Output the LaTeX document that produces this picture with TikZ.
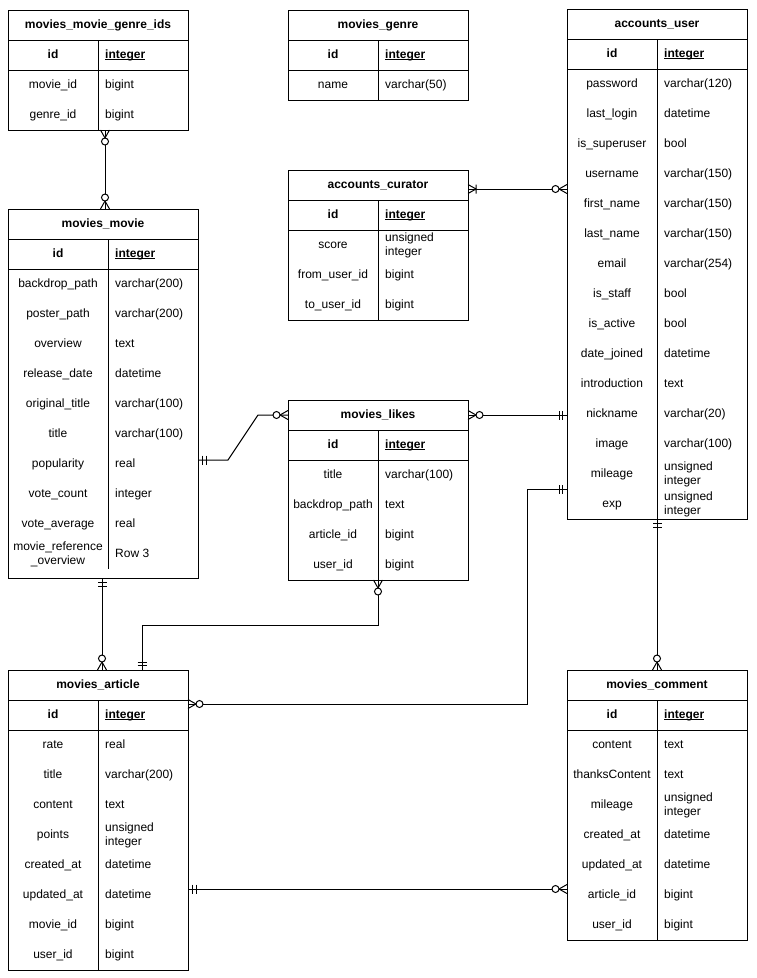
\documentclass[tikz,border=0pt]{standalone}
\usepackage{fontspec}
\setmainfont{Liberation Sans}
\usetikzlibrary{calc}
\tikzset{
  tbl/.style={draw, line width=1pt, inner sep=0pt, outer sep=0pt, fill=white},
  tline/.style={line width=1pt},
  ttl/.style={font=\fontsize{12}{14}\selectfont\bfseries, inner sep=0pt},
  fname/.style={font=\fontsize{12}{14}\selectfont, inner sep=0pt, align=center},
  ftype/.style={font=\fontsize{12}{14}\selectfont, inner sep=0pt, align=left, anchor=west},
  conn/.style={line width=1pt},
  endcircle/.style={line width=1pt, fill=white},
}
\newcommand{\myul}[1]{\setbox0=\hbox{#1}\rlap{\rule[-2pt]{\wd0}{0.9pt}}\box0}
\newcommand{\rs}{\vphantom{Agy\_()}}
% #1 name, #2 x, #3 y, #4 width, #5 name column, #6 title, #7 rows, #8 bottom pad, #9 rows list
\newcommand{\ertable}[9]{%
  \pgfmathsetmacro\tblh{60+30*#7+#8}%
  \pgfmathsetmacro\sepb{#3+60+30*#7}%
  \node[tbl, minimum width=#4pt, minimum height=\tblh pt, anchor=north west] (#1) at (#2,#3) {};
  \node[ttl] (#1-t) at ({#2+#4/2},{#3+15}) {\rs#6};
  \draw[tline] ({#2},{#3+30}) -- ++(#4,0);
  \draw[tline] ({#2},{#3+60}) -- ++(#4,0);
  \draw[tline] ({#2+#5},{#3+30}) -- ({#2+#5},\sepb);
  \node[ttl] (#1-id) at ({#2+#5/2},{#3+45}) {\rs id};
  \node[ftype, font=\fontsize{12}{14}\selectfont\bfseries] (#1-idt) at ({#2+#5+7},{#3+45}) {\rs\myul{integer}};
  \foreach[count=\i] \a/\b in {#9} {
    \node[fname] (#1-n\i) at ({#2+#5/2},{#3+45+30*\i}) {\rs\a};
    \node[ftype] (#1-f\i) at ({#2+#5+7},{#3+45+30*\i}) {\rs\b};
  }
}
\newcommand{\ermandone}[2]{\begin{scope}[shift={(#1)},rotate=#2]\draw[conn] (4.5,-4.5)--(4.5,4.5) (8,-4.5)--(8,4.5);\end{scope}}
\newcommand{\erzeromany}[2]{\begin{scope}[shift={(#1)},rotate=#2]\draw[conn] (0,-4.5)--(8,0)--(0,4.5); \draw[endcircle] (11.5,0) circle[radius=3.5];\end{scope}}
\newcommand{\eronemany}[2]{\begin{scope}[shift={(#1)},rotate=#2]\draw[conn] (0,-4.5)--(8,0)--(0,4.5) (8,-4.5)--(8,4.5);\end{scope}}
\begin{document}
\begin{tikzpicture}[x=1pt,y=-1pt]
\fill[white] (0,0) rectangle (756,978);
\useasboundingbox (0,0) rectangle (756,978);

\ertable{gid}{8}{10}{180}{90}{movies\_movie\_genre\_ids}{2}{0}{movie\_id/bigint, genre\_id/bigint}
\ertable{genre}{288}{10}{180}{90}{movies\_genre}{1}{0}{name/varchar(50)}
\ertable{user}{567}{9}{180}{90}{accounts\_user}{15}{0}{password/varchar(120), last\_login/datetime, is\_superuser/bool, username/varchar(150), first\_name/varchar(150), last\_name/varchar(150), email/varchar(254), is\_staff/bool, is\_active/bool, date\_joined/datetime, introduction/text, nickname/varchar(20), image/varchar(100), mileage/unsigned\\integer, exp/unsigned\\integer}
\ertable{cur}{288}{170}{180}{90}{accounts\_curator}{3}{0}{score/unsigned\\integer, from\_user\_id/bigint, to\_user\_id/bigint}
\ertable{movie}{8}{209}{190}{100}{movies\_movie}{10}{9}{backdrop\_path/varchar(200), poster\_path/varchar(200), overview/text, release\_date/datetime, original\_title/varchar(100), title/varchar(100), popularity/real, vote\_count/integer, vote\_average/real, movie\_reference\\\_overview/Row 3}
\ertable{likes}{288}{400}{180}{90}{movies\_likes}{4}{0}{title/varchar(100), backdrop\_path/text, article\_id/bigint, user\_id/bigint}
\ertable{art}{8}{670}{180}{90}{movies\_article}{8}{0}{rate/real, title/varchar(200), content/text, points/unsigned\\integer, created\_at/datetime, updated\_at/datetime, movie\_id/bigint, user\_id/bigint}
\ertable{com}{567}{670}{180}{90}{movies\_comment}{7}{0}{content/text, thanksContent/text, mileage/unsigned\\integer, created\_at/datetime, updated\_at/datetime, article\_id/bigint, user\_id/bigint}

% connector end points
\coordinate (c1a) at ($(gid.south west)+(97,0)$);
\coordinate (c1b) at ($(movie.north west)+(97,0)$);
\coordinate (c2a) at ($(cur.north east)+(0,19)$);
\coordinate (c2b) at (user.west |- c2a);
\coordinate (c3a) at ($(movie.north east)+(0,251)$);
\coordinate (c3b) at (likes.west |- likes-t);
\coordinate (c4a) at (likes.east |- likes-t);
\coordinate (c4b) at (user.west |- c4a);
\coordinate (c5a) at ($(movie.south west)+(94,0)$);
\coordinate (c5b) at (c5a |- art.north);
\coordinate (c6a) at ($(likes.south west)+(90,0)$);
\coordinate (c6b) at ($(art.north west)+(134,0)$);
\coordinate (c7a) at ($(user.north west)+(0,480)$);
\coordinate (c7b) at ($(art.north east)+(0,34)$);
\coordinate (c8a) at ($(art.north east)+(0,219)$);
\coordinate (c8b) at (com.west |- c8a);
\coordinate (c9a) at ($(user.south west)+(90,0)$);
\coordinate (c9b) at (c9a |- com.north);

% connectors
\draw[conn] (c1a) -- (c1b);
\draw[conn] (c2a) -- (c2b);
\draw[conn] (c3a) -- ++(30,0) -- ($(c3b)+(-30,0)$) -- (c3b);
\draw[conn] (c4a) -- (c4b);
\draw[conn] (c5a) -- (c5b);
\draw[conn] (c6a) -- ++(0,45) -| (c6b);
\draw[conn] (c7a) -- ++(-40,0) |- (c7b);
\draw[conn] (c8a) -- (c8b);
\draw[conn] (c9a) -- (c9b);

% end markers
\erzeromany{c1a}{-90}
\erzeromany{c1b}{90}
\eronemany{c2a}{0}
\erzeromany{c2b}{180}
\ermandone{c3a}{0}
\erzeromany{c3b}{180}
\erzeromany{c4a}{0}
\ermandone{c4b}{180}
\ermandone{c5a}{-90}
\erzeromany{c5b}{90}
\erzeromany{c6a}{-90}
\ermandone{c6b}{90}
\ermandone{c7a}{180}
\erzeromany{c7b}{0}
\ermandone{c8a}{0}
\erzeromany{c8b}{180}
\ermandone{c9a}{-90}
\erzeromany{c9b}{90}
\end{tikzpicture}
\end{document}
